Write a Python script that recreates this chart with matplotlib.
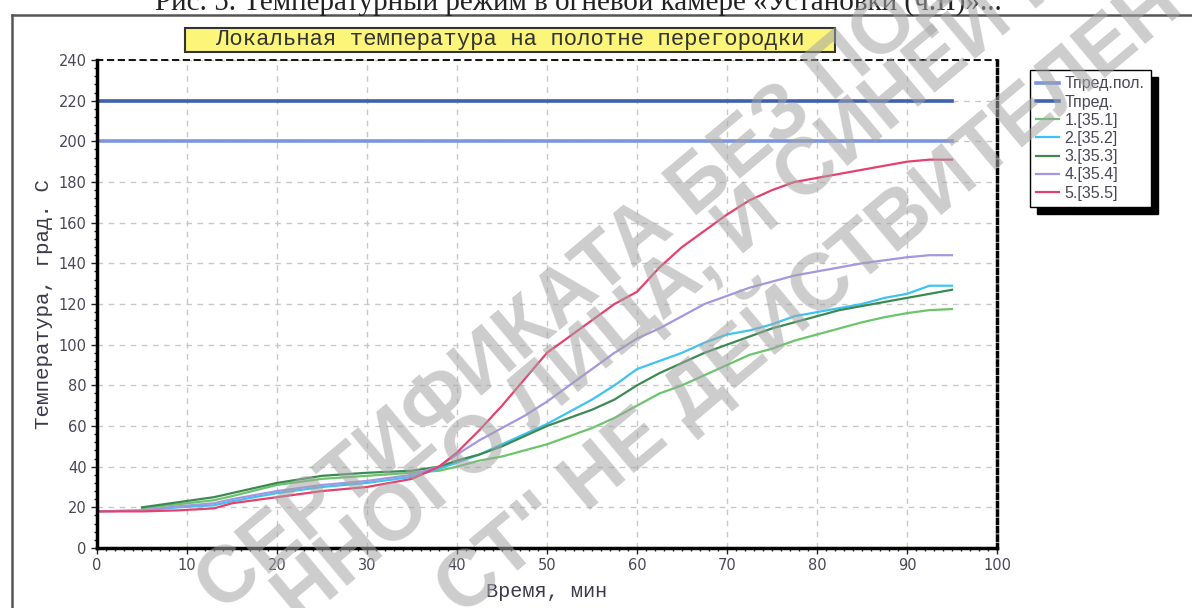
import numpy as np
import matplotlib.pyplot as plt
from matplotlib.patches import Rectangle

# time, min
t = [0, 5, 9, 13, 15, 20, 25, 30, 35, 38, 40, 42.5, 45, 47.5, 50, 52.5, 55, 57.5,
     60, 62.5, 65, 67.5, 70, 72.5, 75, 77.5, 80, 82.5, 85, 87.5, 90, 92.5, 95]

# temperatures, deg C
s1 = [np.nan, 19.5, 21.5, 23.5, 25.5, 31, 34, 35.5, 37, 38, 40, 43, 45, 48, 51, 55, 59, 64,
      70, 76, 80, 85, 90, 95, 98, 102, 105, 108, 111, 113.5, 115.5, 117, 117.5]
s2 = [18, 18.5, 20, 21, 23, 27, 30, 32, 35, 39, 42, 46, 51, 56, 61, 67, 73, 80,
      88, 92, 96, 101, 105, 107, 110, 114, 116, 118, 120, 123, 125, 129, 129]
s3 = [np.nan, 20, 22.5, 25, 27, 32, 35.5, 37, 38, 40, 43, 46, 50, 55, 60, 64, 68, 73,
      80, 86, 91, 96, 100, 104, 108, 111, 114, 117, 119, 121, 123, 125, 127]
s4 = [18, 18.5, 20.5, 22, 24, 28, 31, 33, 36, 40, 46, 53, 59, 65, 72, 80, 88, 96,
      103, 108, 114, 120, 124, 128, 131, 134, 136, 138, 140, 141.5, 143, 144, 144]
s5 = [18, 18, 18.5, 19.5, 22, 25, 28, 30, 34, 40, 47, 58, 70, 83, 96, 104, 112, 120,
      126, 138, 148, 156, 164, 171, 176, 180, 182, 184, 186, 188, 190, 191, 191]

t_lim = [0, 95]
t_pred_pol = [200, 200]
t_pred = [220, 220]

labels = ['Тпред.пол.', 'Тпред.', '1.[35.1]', '2.[35.2]', '3.[35.3]', '4.[35.4]', '5.[35.5]']
colors = ['#7b95de', '#3f5fb0', '#6cc46c', '#3ec3f2', '#3c8a52', '#a496e2', '#e6416c']

fig = plt.figure(figsize=(11.92, 6.08), dpi=100)
ax = fig.add_axes([97/1192, 60/608, 900/1192, 488/608])

ax.plot(t_lim, t_pred_pol, color=colors[0], lw=2.6, label=labels[0])
ax.plot(t_lim, t_pred, color=colors[1], lw=2.6, label=labels[1])
for s, c, lab in zip([s1, s2, s3, s4, s5], colors[2:], labels[2:]):
    ax.plot(t, s, color=c, lw=1.6, label=lab)

ax.set_xlim(0, 100)
ax.set_ylim(0, 240)
ax.set_xticks(np.arange(0, 101, 10))
ax.set_yticks(np.arange(0, 241, 20))
ax.set_xticks(np.arange(0, 101, 1), minor=True)
ax.set_yticks(np.arange(0, 241, 4), minor=True)
ax.grid(True, color='#c8c8c8', lw=1, ls=(0, (4, 4)))
ax.tick_params(which='both', direction='out', colors='#222222', labelcolor='#4a4658',
               labelsize=10.5)
ax.tick_params(which='major', length=4, width=1)
ax.tick_params(which='minor', length=2.5, width=1)

ax.spines['left'].set_linewidth(2.5)
ax.spines['bottom'].set_linewidth(2.5)
ax.spines['top'].set_linestyle((0, (3, 3)))
ax.spines['top'].set_linewidth(1.3)
ax.spines['right'].set_linestyle((0, (1.2, 1.2)))
ax.spines['right'].set_linewidth(2.5)

mono = 'Liberation Mono'
ax.set_xlabel('Время, мин', family=mono, fontsize=14.5, color='#3a3a4a', labelpad=6)
ax.set_ylabel('Температура, град. С', family=mono, fontsize=15, color='#3a3a4a', labelpad=4)

leg = ax.legend(loc='upper left', bbox_to_anchor=(1030/1192, 1 - 70/608),
                bbox_transform=fig.transFigure, handlelength=1.4,
                prop={'family': 'Liberation Sans', 'size': 11.5},
                handletextpad=0.35, labelspacing=0.2, borderpad=0.4, borderaxespad=0,
                fancybox=False, edgecolor='black', framealpha=1,
                shadow={'color': 'black', 'alpha': 1, 'ox': 5, 'oy': -5})
for txt in leg.get_texts():
    txt.set_color('#4a4658')
leg.get_frame().set_linewidth(1)

# title box
fig.patches.append(Rectangle((185/1192, 1 - 52/608), 650/1192, 24/608,
                             transform=fig.transFigure, facecolor='#fbf57a',
                             edgecolor='#333333', lw=1.5, zorder=5))
fig.text(510/1192, 1 - 40/608, 'Локальная температура на полотне перегородки',
         family=mono, fontsize=16, color='#333333', ha='center', va='center', zorder=6)

# outer frame and cut caption
fig.add_artist(plt.Line2D([12/1192, 12/1192], [0, 1 - 15/608], color='#555555', lw=1.8))
fig.add_artist(plt.Line2D([12/1192, 1], [1 - 15/608, 1 - 15/608], color='#555555', lw=1.8))
fig.text(578/1192, 1 - 10/608,
         'Рис. 5. Температурный режим в огневой камере «Установки (ч.II)»...',
         family='Liberation Serif', fontsize=21, color='#222222', ha='center', va='baseline')

# watermark
wm = dict(family='Liberation Sans', fontweight='bold', fontsize=57, color='#a4a4a4', alpha=0.55,
          rotation=40, rotation_mode='anchor', ha='left', va='baseline', zorder=10)
fig.text(222/1192, -6/608, 'СЕРТИФИКАТА БЕЗ ПОДПИСИ', **wm)
fig.text(300/1192, -18/608, 'ННОГО ЛИЦА, И СИНЕЙ ПЕЧАТИ', **wm)
fig.text(462/1192, -10/608, 'СТ" НЕ ДЕЙСТВИТЕЛЕН', **wm)

fig.savefig('out.png', dpi=100)
